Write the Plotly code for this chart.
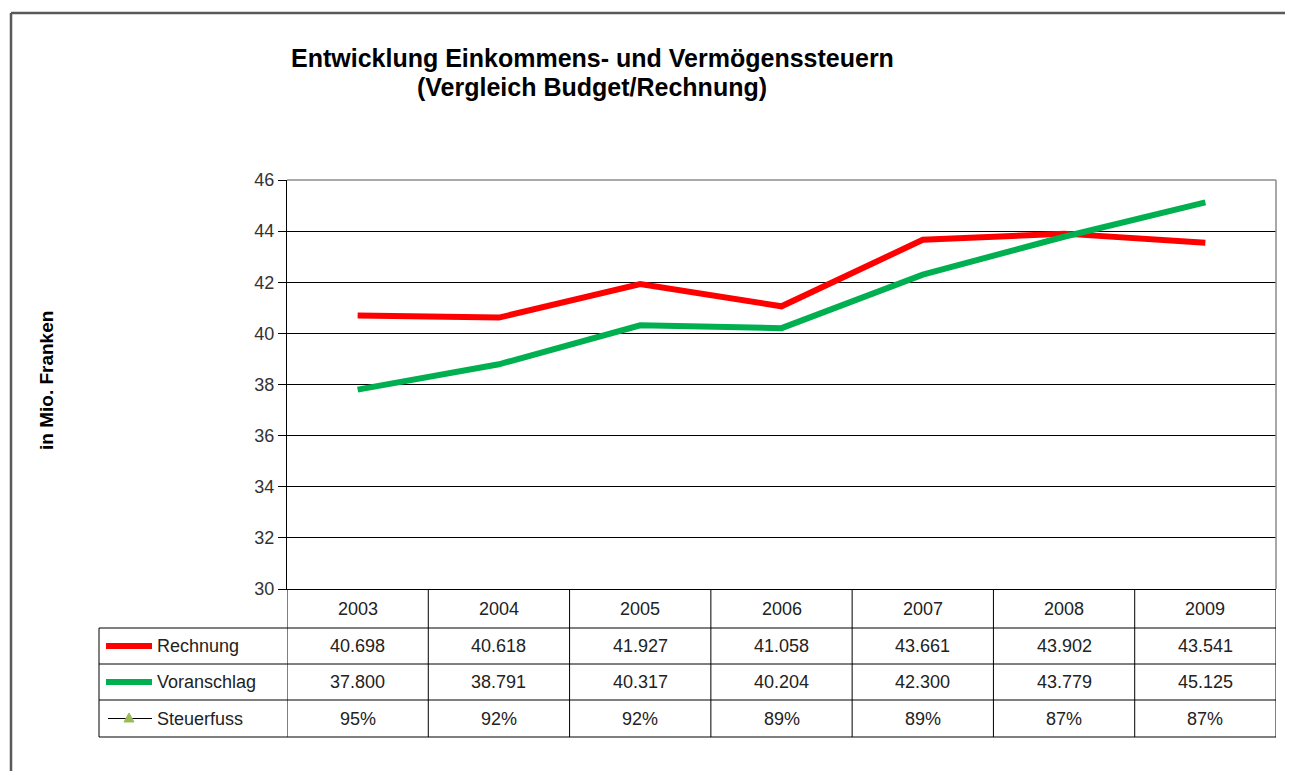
import plotly.graph_objects as go

years = ["2003", "2004", "2005", "2006", "2007", "2008", "2009"]
rechnung = [40.698, 40.618, 41.927, 41.058, 43.661, 43.902, 43.541]
voranschlag = [37.800, 38.791, 40.317, 40.204, 42.300, 43.779, 45.125]
steuerfuss = [0.95, 0.92, 0.92, 0.89, 0.89, 0.87, 0.87]
series_names = ["Rechnung", "Voranschlag", "Steuerfuss"]
y_ticks = [30, 32, 34, 36, 38, 40, 42, 44, 46]

OFF = 8  # page body margin
W, H = 1293 - 2 * OFF, 771 - OFF
L, R, T, B = 287, 1276, 180, 589  # plot area in page pixels
FONT = "Liberation Sans, Arial, sans-serif"
RED = "#FF0000"
GREEN = "#00B050"

def px_x(px):
    return (px - L) / (R - L)

def px_y(py):
    return (B - py) / (B - T)

fig = go.Figure()
xi = list(range(len(years)))
fig.add_trace(go.Scatter(x=xi, y=rechnung, mode="lines", name=series_names[0],
                         line=dict(color=RED, width=6), cliponaxis=False))
fig.add_trace(go.Scatter(x=xi, y=voranschlag, mode="lines", name=series_names[1],
                         line=dict(color=GREEN, width=6), cliponaxis=False))

shapes = []
annotations = []
# outer chart border (left and top visible)
shapes.append(dict(type="line", xref="paper", yref="paper", x0=px_x(11), x1=px_x(1300),
                   y0=px_y(13), y1=px_y(13), line=dict(color="#595959", width=2.5)))
shapes.append(dict(type="line", xref="paper", yref="paper", x0=px_x(11), x1=px_x(11),
                   y0=px_y(13), y1=px_y(780), line=dict(color="#595959", width=2.5)))
# plot area border top/right grey
shapes.append(dict(type="line", xref="paper", yref="paper", x0=0, x1=1, y0=1, y1=1,
                   line=dict(color="#8c8c8c", width=1.5)))
shapes.append(dict(type="line", xref="paper", yref="paper", x0=1, x1=1, y0=0, y1=1,
                   line=dict(color="#8c8c8c", width=1.5)))

# table geometry
rows_px = [589, 628, 664, 700, 737]
n = len(years)
line_c = "#000000"
for r in rows_px[1:]:
    shapes.append(dict(type="line", xref="paper", yref="paper", x0=px_x(99), x1=1,
                       y0=px_y(r), y1=px_y(r), line=dict(color=line_c, width=1)))
for k in range(n + 1):
    shapes.append(dict(type="line", xref="x", yref="paper", x0=k - 0.5, x1=k - 0.5,
                       y0=px_y(rows_px[0]), y1=px_y(rows_px[-1]), line=dict(color=line_c, width=1)))
shapes.append(dict(type="line", xref="paper", yref="paper", x0=px_x(99), x1=px_x(99),
                   y0=px_y(rows_px[1]), y1=px_y(rows_px[-1]), line=dict(color=line_c, width=1)))

def row_center(i):
    return px_y((rows_px[i] + rows_px[i + 1]) / 2)

tfont = dict(family=FONT, size=18, color="#222222")
def cell(x, y, text, xref="x", xanchor="center"):
    annotations.append(dict(x=x, y=y, xref=xref, yref="paper", text=text, showarrow=False,
                            xanchor=xanchor, yanchor="middle", font=tfont))

for k, yr in enumerate(years):
    cell(k, row_center(0), yr)
    cell(k, row_center(1), f"{rechnung[k]:.3f}")
    cell(k, row_center(2), f"{voranschlag[k]:.3f}")
    cell(k, row_center(3), f"{round(steuerfuss[k]*100)}%")

# legend keys in table
for i, (name, col) in enumerate([(series_names[0], RED), (series_names[1], GREEN)]):
    yc = row_center(i + 1)
    shapes.append(dict(type="line", xref="paper", yref="paper", x0=px_x(106), x1=px_x(152),
                       y0=yc, y1=yc, line=dict(color=col, width=6)))
    cell(px_x(155), yc, name, xref="paper", xanchor="left")
yc = row_center(3)
shapes.append(dict(type="line", xref="paper", yref="paper", x0=px_x(108), x1=px_x(152),
                   y0=yc, y1=yc, line=dict(color="#000000", width=1)))
tri = (f"M {px_x(124)},{px_y(722)} L {px_x(134)},{px_y(722)} "
       f"L {px_x(129)},{px_y(713)} Z")
shapes.append(dict(type="path", xref="paper", yref="paper", path=tri,
                   fillcolor="#9BBB59", line=dict(color="#9BBB59", width=1)))
cell(px_x(155), yc, series_names[2], xref="paper", xanchor="left")

# title
tt = dict(family=FONT, size=25, color="#000000")
annotations.append(dict(x=px_x(592), y=px_y(58), xref="paper", yref="paper",
                        xanchor="center", yanchor="middle",
                        text="<b>Entwicklung Einkommens- und Vermögenssteuern</b>",
                        showarrow=False, font=tt))
annotations.append(dict(x=px_x(592), y=px_y(87), xref="paper", yref="paper",
                        xanchor="center", yanchor="middle",
                        text="<b>(Vergleich Budget/Rechnung)</b>", showarrow=False, font=tt))
# y title
annotations.append(dict(x=px_x(46), y=px_y(381), xref="paper", yref="paper",
                        xanchor="center", yanchor="middle",
                        text="<b>in Mio. Franken</b>", textangle=-90, showarrow=False,
                        font=dict(family=FONT, size=19, color="#000000")))

fig.update_layout(
    width=W, height=H,
    margin=dict(l=L - OFF, r=W + OFF - R, t=T - OFF, b=H + OFF - B, pad=0),
    paper_bgcolor="white", plot_bgcolor="white",
    showlegend=False,
    xaxis=dict(range=[-0.5, n - 0.5], showticklabels=False, showgrid=False, zeroline=False,
               showline=True, linecolor="#000000", linewidth=1, ticks=""),
    yaxis=dict(range=[30, 46], tickvals=y_ticks, showgrid=True, gridcolor="#000000", gridwidth=1,
               zeroline=False, showline=True, linecolor="#000000", linewidth=1,
               ticks="outside", ticklen=8, tickcolor="#000000",
               tickfont=dict(family=FONT, size=18, color="#333333")),
    shapes=shapes, annotations=annotations,
)
fig.write_html("out.html")
